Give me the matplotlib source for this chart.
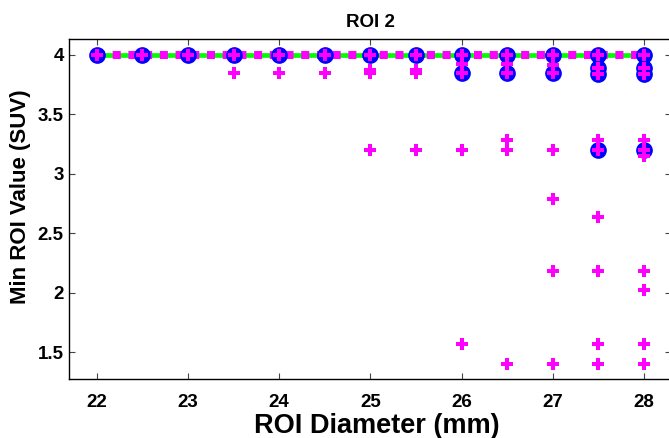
import matplotlib
matplotlib.use('Agg')

import matplotlib.pyplot as plt
from matplotlib.ticker import FormatStrFormatter

plt.rcParams['font.family'] = ['Liberation Sans', 'DejaVu Sans']
plt.rcParams['font.weight'] = 'bold'

# ROI diameters (mm) and the reference level
diameters = [22, 22.5, 23, 23.5, 24, 24.5, 25, 25.5, 26, 26.5, 27, 27.5, 28]
ref_level = [4, 4, 4, 4, 4, 4, 4, 4, 4, 4, 4, 4, 4]
dashed_level = [4, 4, 4, 4, 4, 4, 4, 4, 4, 4, 4, 4, 4]

# blue circle markers
circle_x = [22, 22.5, 23, 23.5, 24, 24.5, 25, 25.5, 26, 26.5, 27, 27.5, 28,
            26, 26.5, 27, 27.5, 27.5, 28, 28, 27.5, 28]
circle_y = [4, 4, 4, 4, 4, 4, 4, 4, 4, 4, 4, 4, 4,
            3.845, 3.845, 3.845, 3.835, 3.89, 3.835, 3.89, 3.2, 3.2]

# magenta plus markers
plus_x = [22, 22.5, 23, 23.5, 24, 24.5, 25, 25.5, 26, 26.5, 27, 27.5, 28,
          23.5, 24, 24.5, 25, 25.5, 26, 26.5, 27, 27.5, 28,
          25, 25.5, 27.5, 28, 26, 26.5, 27,
          25, 25.5, 26, 26.5, 27, 27.5, 28, 26.5, 27.5, 28, 28,
          27, 27.5, 27, 27.5, 28, 28, 26, 27.5, 28, 26.5, 27, 27.5, 28]
plus_y = [4, 4, 4, 4, 4, 4, 4, 4, 4, 4, 4, 4, 4,
          3.845, 3.845, 3.845, 3.845, 3.845, 3.845, 3.845, 3.845, 3.835, 3.835,
          3.875, 3.875, 3.89, 3.89, 3.92, 3.92, 3.91,
          3.2, 3.2, 3.2, 3.2, 3.2, 3.2, 3.2, 3.285, 3.285, 3.285, 3.15,
          2.79, 2.64, 2.18, 2.18, 2.18, 2.02, 1.567, 1.567, 1.567,
          1.405, 1.405, 1.405, 1.405]

fig = plt.figure(figsize=(6.69, 4.38), dpi=100)
ax = fig.add_axes([0.1036, 0.1347, 0.9, 0.7756])

ax.plot(diameters, ref_level, '-', color='#00ff00', linewidth=3.4, zorder=2)
ax.plot(diameters, dashed_level, color='#ff00ff', linewidth=5.8,
        dashes=(1.0, 0.95), dash_capstyle='butt', zorder=3)
ax.plot(circle_x, circle_y, 'o', markersize=11, markerfacecolor='#0000ff',
        markeredgecolor='#0000ff', markeredgewidth=1.0, zorder=4)
ax.plot(plus_x, plus_y, 'P', markersize=9, color='#ff00ff',
        markeredgewidth=0, zorder=5)

ax.set_xlim(21.70, 28.30)
ax.set_ylim(1.276, 4.13)
ax.set_xticks([22, 23, 24, 25, 26, 27, 28])
ax.set_yticks([1.5, 2, 2.5, 3, 3.5, 4])
ax.yaxis.set_major_formatter(FormatStrFormatter('%g'))

ax.tick_params(direction='in', length=4, width=0.8, top=True, right=True,
               labelsize=13.5, color='#444444')
ax.tick_params(axis='x', pad=11)
ax.tick_params(axis='y', pad=4)
for s in ax.spines.values():
    s.set_linewidth(1.0)

ax.set_title('ROI 2', fontsize=13.5, fontweight='bold', pad=9)
ax.set_xlabel('ROI Diameter (mm)', fontsize=19.5, fontweight='bold')
ax.xaxis.set_label_coords(0.51, -0.1)
ax.set_ylabel('Min ROI Value (SUV)', fontsize=16, fontweight='bold')
ax.yaxis.set_label_coords(-0.064, 0.537)

fig.savefig('out.png', dpi=100)
